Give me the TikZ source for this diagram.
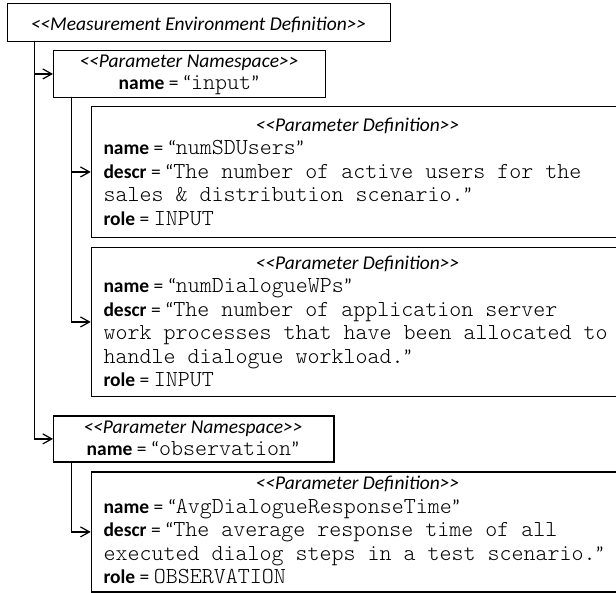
\documentclass[tikz,border=0pt]{standalone}
\usepackage{fontspec}
\setmainfont{Carlito}
\newfontfamily\mnfont{Latin Modern Mono Light}
\usetikzlibrary{arrows.meta}
\newcommand\mn[1]{{\fontsize{22.86}{23}\mnfont #1}}
\newcommand\stereo[1]{<{}<#1>{}>}
\begin{document}
\begin{tikzpicture}[x=1pt,y=-1pt,
  box/.style={draw, line width=1.2pt, rectangle, inner sep=0pt, anchor=north west},
  conn/.style={line width=1.2pt, -{Straight Barb[length=9pt,width=10pt,line width=1.2pt]}},
  lbl/.style={inner sep=0pt, anchor=base west, font=\fontsize{19.5}{21}\selectfont},
  ctr/.style={inner sep=0pt, anchor=base, font=\fontsize{19.5}{21}\selectfont},
  hdr/.style={inner sep=0pt, anchor=base, font=\fontsize{19.5}{21}\selectfont\itshape},
]
\clip (0,0) rectangle (616,592);
\fill[white] (0,0) rectangle (616,592);

% boxes
\node[box, minimum width=383pt, minimum height=37.5pt] (med) at (7,3) {};
\node[box, minimum width=272pt, minimum height=46.7pt] (ns1) at (53,50) {};
\node[box, minimum width=532pt, minimum height=130.7pt] (pd1) at (90.7,106) {};
\node[box, minimum width=532pt, minimum height=149.3pt] (pd2) at (90.7,246.7) {};
\node[box, minimum width=280.3pt, minimum height=46pt] (ns2) at (53,415.3) {};
\node[box, minimum width=532pt, minimum height=120pt] (pd3) at (90.7,471.3) {};

% texts
\node[hdr] (medh) at (198.5,30) {\stereo{Measurement Environment Definition}};

\node[hdr] (ns1h) at (189,67) {\stereo{Parameter Namespace}};
\node[ctr] (ns1n) at (189,89) {\textbf{name} = “\mn{input}”};

\node[hdr] (pd1h) at (357.5,131) {\stereo{Parameter Definition}};
\node[lbl] (pd1a) at (103.3,154.5) {\textbf{name} = “\mn{numSDUsers}”};
\node[lbl] (pd1b) at (103.3,178) {\textbf{descr} = “\mn{The number of active users for the}};
\node[lbl] (pd1c) at (103.3,201.5) {\mn{sales \& distribution scenario.}”};
\node[lbl] (pd1d) at (103.3,225) {\textbf{role} = \mn{INPUT}};

\node[hdr] (pd2h) at (357.5,269) {\stereo{Parameter Definition}};
\node[lbl] (pd2a) at (103.3,292.5) {\textbf{name} = “\mn{numDialogueWPs}”};
\node[lbl] (pd2b) at (103.3,316) {\textbf{descr} = “\mn{The number of application server}};
\node[lbl] (pd2c) at (103.3,339.5) {\mn{work processes that have been allocated to}};
\node[lbl] (pd2d) at (103.3,363) {\mn{handle dialogue workload.}”};
\node[lbl] (pd2e) at (103.3,386.5) {\textbf{role} = \mn{INPUT}};

\node[hdr] (ns2h) at (193,433) {\stereo{Parameter Namespace}};
\node[ctr] (ns2n) at (193,455.5) {\textbf{name} = “\mn{observation}”};

\node[hdr] (pd3h) at (357.5,489.5) {\stereo{Parameter Definition}};
\node[lbl] (pd3a) at (103.3,513) {\textbf{name} = “\mn{AvgDialogueResponseTime}”};
\node[lbl] (pd3b) at (103.3,536.5) {\textbf{descr} = “\mn{The average response time of all}};
\node[lbl] (pd3c) at (103.3,560) {\mn{executed dialog steps in a test scenario.}”};
\node[lbl] (pd3d) at (103.3,583.5) {\textbf{role} = \mn{OBSERVATION}};

% connectors
\coordinate (o1) at (34.3,40.5);
\coordinate (o2) at (71.7,96.7);
\coordinate (o3) at (71.7,461.3);
\draw[conn] (o1) |- (ns1.west);
\draw[conn] (o1) |- (ns2.west);
\draw[conn] (o2) |- (pd1.west);
\draw[conn] (o2) |- (pd2.west);
\draw[conn] (o3) |- (pd3.west);
\end{tikzpicture}
\end{document}
